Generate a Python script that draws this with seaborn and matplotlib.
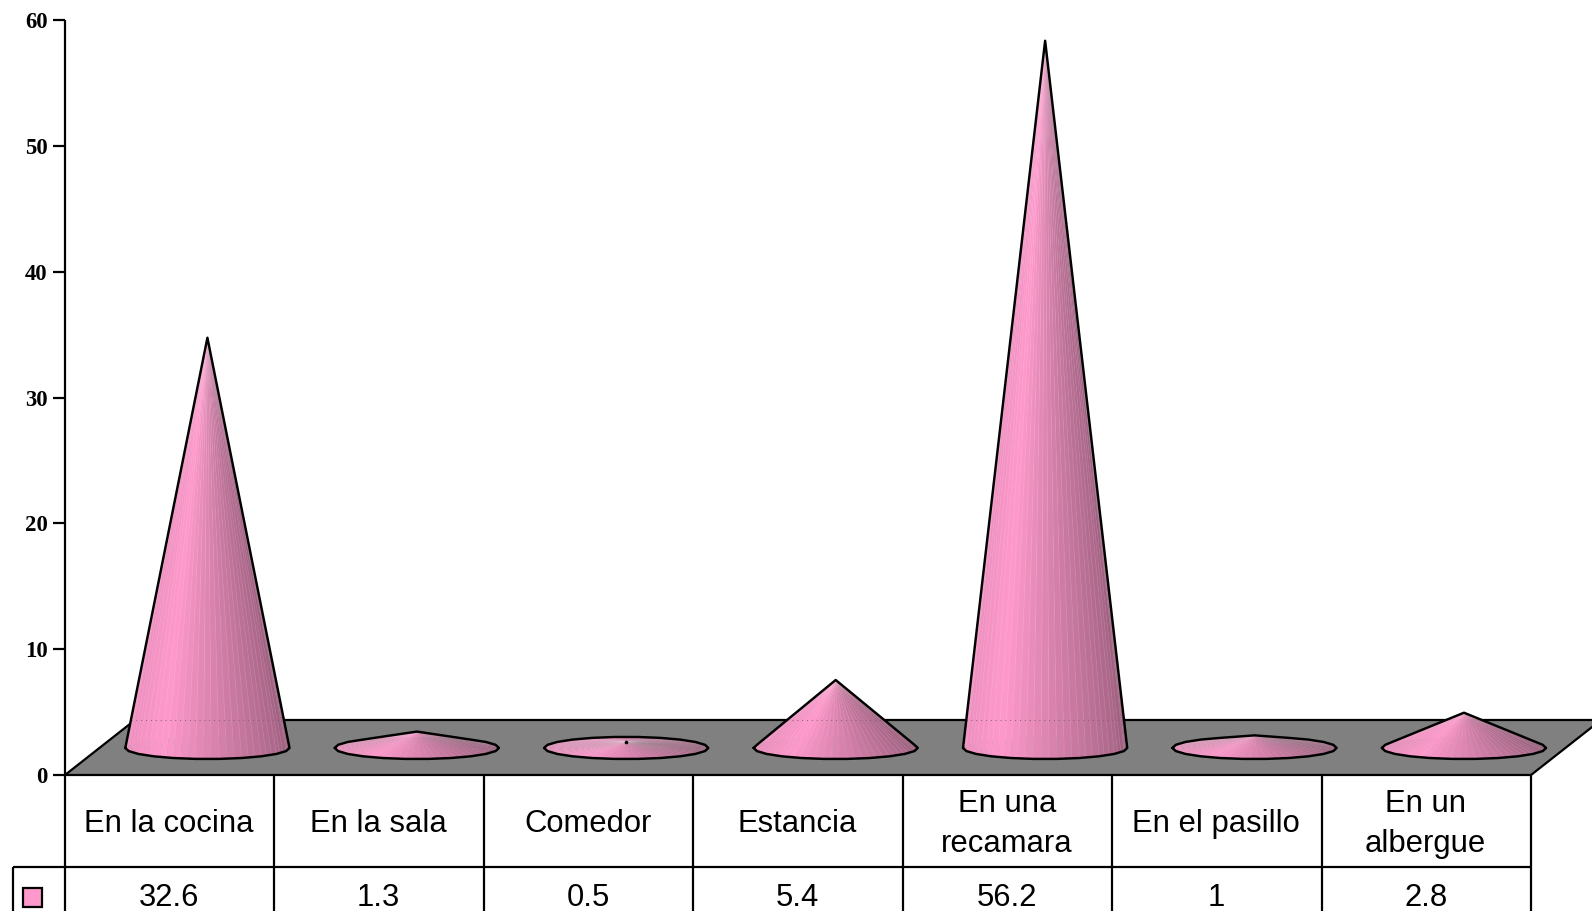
import numpy as np
import pandas as pd
import seaborn as sns
import matplotlib
matplotlib.use("Agg")
import matplotlib.pyplot as plt
from matplotlib.collections import PolyCollection
from matplotlib.patches import Polygon, Rectangle
from matplotlib.transforms import blended_transform_factory

# ---- data ----
categories = ["En la cocina", "En la sala", "Comedor", "Estancia",
              "En una\nrecamara", "En el pasillo", "En un\nalbergue"]
values = [32.6, 1.3, 0.5, 5.4, 56.2, 1.0, 2.8]
value_labels = ["32.6", "1.3", "0.5", "5.4", "56.2", "1", "2.8"]
y_ticks = [0, 10, 20, 30, 40, 50, 60]

# ---- style ----
W, H = 1592, 911
PINK = "#FF99CC"
FLOOR = "#808080"
LW = 1.6
sns.set_theme(style="white", rc={"axes.linewidth": LW, "axes.edgecolor": "black"})

fig = plt.figure(figsize=(W / 100, H / 100), dpi=100, facecolor="white")

# background layer in figure pixels: floor and table frame
bg = fig.add_axes([0, 0, 1, 1], zorder=0)
bg.set_xlim(0, W)
bg.set_ylim(H, 0)
bg.axis("off")

# value axis
AX_L, AX_R, AX_T, AX_B = 65, 1531, 20, 775
ax = fig.add_axes([AX_L / W, (H - AX_B) / H, (AX_R - AX_L) / W, (AX_B - AX_T) / H], zorder=1)
ax.patch.set_alpha(0)

# floor
bg.add_patch(Polygon([(AX_L, AX_B), (AX_R, AX_B), (AX_R + 70, 720), (AX_L + 70, 720)],
                     closed=True, facecolor=FLOOR, edgecolor="black", linewidth=LW,
                     joinstyle="miter", zorder=1))

# table
trans = blended_transform_factory(ax.transData, bg.transData)
ROW_1, ROW_2 = 867, 911
for i in range(len(categories) + 1):
    bg.plot([AX_L + (AX_R - AX_L) * i / len(categories)] * 2, [AX_B, ROW_2],
            color="black", lw=LW, zorder=2, solid_capstyle="butt")
bg.plot([13, AX_R], [ROW_1, ROW_1], color="black", lw=LW, zorder=2, solid_capstyle="butt")
bg.plot([13, 13], [ROW_1, ROW_2], color="black", lw=LW, zorder=2, solid_capstyle="butt")
bg.add_patch(Rectangle((23, 888), 19, 19, facecolor=PINK, edgecolor="black", linewidth=LW, zorder=2))
TEXT_SHIFT = -0.003
for i, (c, v) in enumerate(zip(categories, value_labels)):
    ax.text(i + TEXT_SHIFT, 824, c, transform=trans, ha="center", va="center", fontsize=22.3,
            family="Liberation Sans", color="black", linespacing=1.45, clip_on=False)
    ax.text(i + TEXT_SHIFT, 898, v, transform=trans, ha="center", va="center", fontsize=22.3,
            family="Liberation Sans", color="black", clip_on=False)

# cones
BASE_VAL = 2.15     # height of the base centre above zero
DEPTH = 0.18        # sideways shift of the base centre, in category widths
RX, RY = 0.392, 0.88
N_OUT, N_SUB = 22, 3

def shade(c):
    # c is the horizontal position on the base, -1 (left) to 1 (right)
    stops = [-1.0, -0.55, 0.0, 0.5, 0.85, 1.0]
    factor = [0.93, 1.0, 0.87, 0.76, 0.68, 0.60]
    k = np.interp(c, stops, factor)
    return np.array(matplotlib.colors.to_rgb(PINK)) * k

def hull(points):
    pts = sorted(set(map(tuple, points)))
    def half(seq):
        out = []
        for p in seq:
            while len(out) > 1 and ((out[-1][0] - out[-2][0]) * (p[1] - out[-2][1])
                                    - (out[-1][1] - out[-2][1]) * (p[0] - out[-2][0])) <= 0:
                out.pop()
            out.append(p)
        return out[:-1]
    return half(pts) + half(pts[::-1])

ang = np.linspace(0, 2 * np.pi, N_OUT, endpoint=False)
for i, val in enumerate(values):
    cx = i + DEPTH
    apex = (cx, BASE_VAL + val)
    ox = cx + RX * np.cos(ang)
    oy = BASE_VAL + RY * np.sin(ang)
    # facets around the base
    fx, fy = [], []
    for j in range(N_OUT):
        k = (j + 1) % N_OUT
        for s in range(N_SUB):
            f = s / N_SUB
            fx.append(ox[j] * (1 - f) + ox[k] * f)
            fy.append(oy[j] * (1 - f) + oy[k] * f)
    fx, fy = np.array(fx), np.array(fy)
    n = len(fx)
    facets, cols, depth = [], [], []
    for j in range(n):
        k = (j + 1) % n
        facets.append([apex, (fx[j], fy[j]), (fx[k], fy[k])])
        cols.append(shade((fx[j] + fx[k] - 2 * cx) / (2 * RX)))
        depth.append(-(fy[j] + fy[k]))
    order = np.argsort(depth)
    coll = PolyCollection([facets[o] for o in order], facecolors=[cols[o] for o in order],
                          edgecolors=[(1, 1, 1, 0.11)], linewidths=0.5, antialiaseds=True,
                          zorder=3, clip_on=False)
    # the collection sits on the data transform of the value axis
    ax.add_collection(coll, autolim=False)

    # seam where a tall cone passes the back edge of the floor
    back_val = 55 / ((AX_B - AX_T) / 60)
    if BASE_VAL + val > back_val + 1:
        half_w = RX * (BASE_VAL + val - back_val) / val
        ax.plot([cx - half_w, cx + half_w], [back_val, back_val], color="#8a5a75", lw=0.7,
                ls=(0, (1, 4)), zorder=3.5, clip_on=False)

    h = hull(list(zip(ox, oy)) + [apex])
    h = np.array(h + [h[0]])
    line = pd.DataFrame({"x": h[:, 0], "y": h[:, 1]})
    sns.lineplot(data=line, x="x", y="y", sort=False, estimator=None, color="black",
                 linewidth=1.75, ax=ax, zorder=4, clip_on=False, legend=False)
    if val < 1:
        ax.plot([cx], [BASE_VAL + val], marker="o", ms=1.6, color="black", zorder=4, clip_on=False)

# axes
ax.set_xlim(-0.5, len(categories) - 0.5)
ax.set_ylim(0, 60)
ax.set_xlabel("")
ax.set_ylabel("")
ax.set_xticks([])
ax.set_yticks(y_ticks)
ax.set_yticklabels([str(t) for t in y_ticks], family="Liberation Serif", fontweight="bold",
                   fontsize=16.4, color="black")
ax.tick_params(axis="y", left=True, length=8.6, width=LW, pad=4, color="black")
for s in ["top", "right", "bottom"]:
    ax.spines[s].set_visible(False)
ax.spines["left"].set_capstyle("butt")

fig.savefig("out.png", dpi=100, facecolor="white")
